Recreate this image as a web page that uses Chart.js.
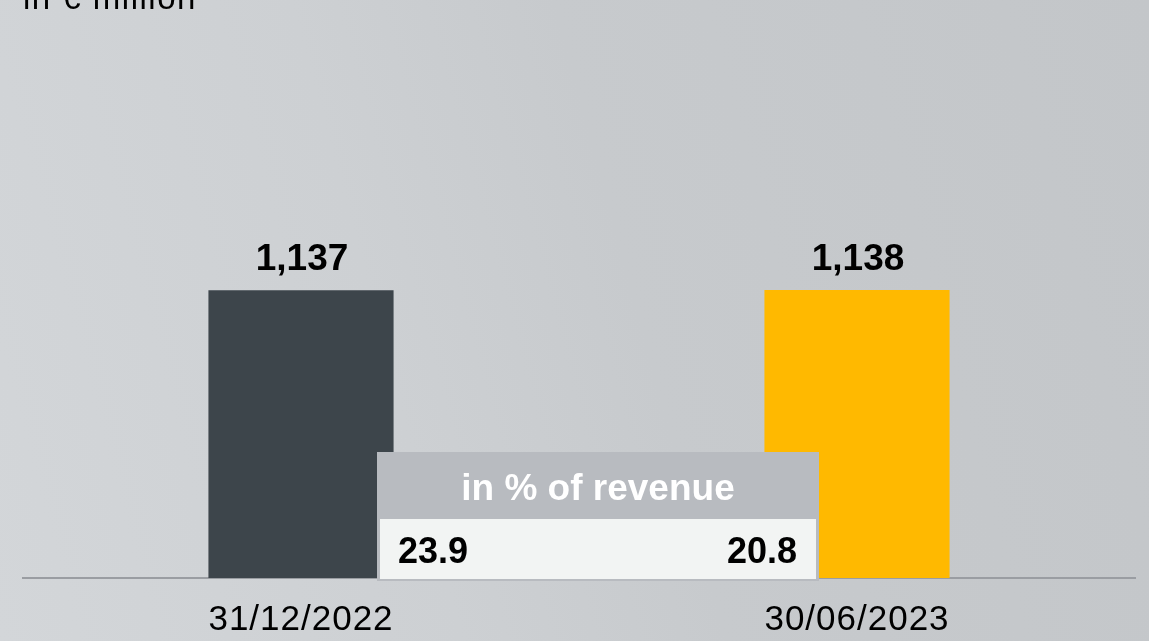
<!DOCTYPE html>
<html>
<head>
<meta charset="utf-8">
<script src="https://cdn.jsdelivr.net/npm/chart.js@4"></script>
<style>
  html, body { margin: 0; padding: 0; }
  body {
    width: 1149px; height: 641px; overflow: hidden;
    background: linear-gradient(75deg, #d3d6d9 0%, #cdd0d3 35%, #c7cacd 55%, #c3c6c9 100%);
    font-family: "Liberation Sans", Arial, sans-serif;
  }
  canvas { display: block; }
</style>
</head>
<body>
<canvas id="chart" width="1149" height="662"></canvas>
<script>
// data
const categories = ['31/12/2022', '30/06/2023'];
const values = [1137, 1138];
const revenueShare = [23.9, 20.8];
const barColors = ['#3d454b', '#ffb900'];
const unitLabel = 'in € million';
const boxLabel = 'in % of revenue';

const fmt = v => v.toLocaleString('en-US');

// eigene Zeichnungen: Titel, Werte, Kasten
const overlay = {
    id: 'overlay',
    beforeDraw(chart) {
        const ctx = chart.ctx;
        ctx.save();
        ctx.letterSpacing = '1.5px';
        ctx.fillStyle = '#000';
        ctx.font = '33px "Liberation Sans", Arial, sans-serif';
        ctx.textAlign = 'left';
        ctx.textBaseline = 'alphabetic';
        ctx.fillText(unitLabel, 23, 9);
        ctx.restore();
        ctx.letterSpacing = '1px';
    },
    beforeDatasetsDraw(chart) {
        chart.ctx.letterSpacing = '0px';
    },
    afterDatasetsDraw(chart) {
        const ctx = chart.ctx;
        const meta = chart.getDatasetMeta(0);
        const xs = chart.scales.x;

        ctx.save();
        ctx.fillStyle = '#000';
        ctx.font = 'bold 37px "Liberation Sans", Arial, sans-serif';
        ctx.textAlign = 'center';
        ctx.textBaseline = 'alphabetic';
        meta.data.forEach((bar, i) => {
            ctx.fillText(fmt(values[i]), bar.x + 1, bar.y - 20);
        });

        // Kasten "in % of revenue"
        const x0 = xs.getPixelForValue(0);
        const x1 = xs.getPixelForValue(1);
        const left = x0 + 76, right = x1 - 38;
        const top = 452, mid = 519, bottom = 581;
        ctx.fillStyle = '#b8bbc0';
        ctx.fillRect(left, top, right - left, bottom - top);
        ctx.fillStyle = '#f2f4f3';
        ctx.fillRect(left + 3, mid, right - left - 6, bottom - mid - 2);

        ctx.fillStyle = '#fff';
        ctx.font = 'bold 37px "Liberation Sans", Arial, sans-serif';
        ctx.textAlign = 'center';
        ctx.fillText(boxLabel, (left + right) / 2, 500);

        ctx.fillStyle = '#000';
        ctx.font = 'bold 36px "Liberation Sans", Arial, sans-serif';
        ctx.textAlign = 'left';
        ctx.fillText(revenueShare[0].toFixed(1), left + 21, 563);
        ctx.textAlign = 'right';
        ctx.fillText(revenueShare[1].toFixed(1), right - 22, 563);
        ctx.restore();
    }
};

new Chart(document.getElementById('chart'), {
    type: 'bar',
    data: {
        labels: categories,
        datasets: [{
            data: values,
            backgroundColor: barColors,
            borderWidth: 0,
            barPercentage: 0.333,
            categoryPercentage: 1
        }]
    },
    options: {
        responsive: false,
        animation: false,
        devicePixelRatio: 1,
        layout: { padding: { top: 173, left: 23, right: 14, bottom: 0 } },
        plugins: {
            legend: { display: false },
            tooltip: { enabled: false }
        },
        scales: {
            x: {
                grid: { display: false, drawTicks: false },
                border: { display: true, color: '#9a9da2', width: 2 },
                ticks: {
                    color: '#000',
                    padding: 21,
                    font: { family: '"Liberation Sans", Arial, sans-serif', size: 35 }
                }
            },
            y: {
                display: false,
                min: 0,
                max: 1600
            }
        }
    },
    plugins: [overlay]
});
</script>
</body>
</html>
